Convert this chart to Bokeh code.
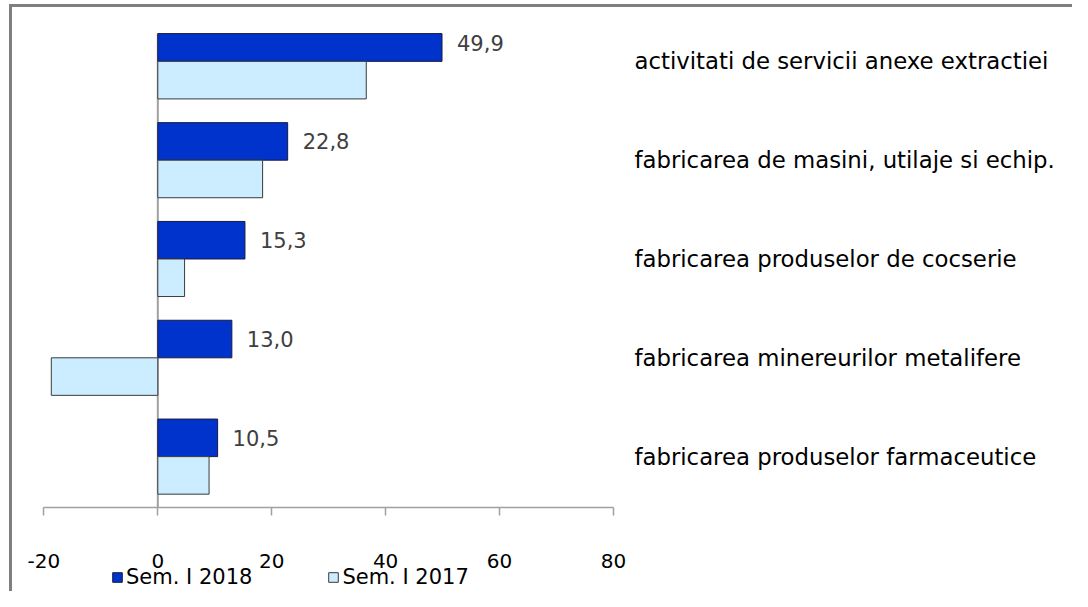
from bokeh.plotting import figure
from bokeh.models import (ColumnDataSource, FixedTicker, Legend, LegendItem)
from bokeh.core.properties import value
from bokeh.embed import file_html
from bokeh.resources import INLINE

categories = [
    "activitati de servicii anexe extractiei",
    "fabricarea de masini, utilaje si echip.",
    "fabricarea produselor de cocserie",
    "fabricarea minereurilor metalifere",
    "fabricarea produselor farmaceutice",
]
sem1_2018 = [49.9, 22.8, 15.3, 13.0, 10.5]
sem1_2017 = [36.6, 18.4, 4.7, -18.7, 9.0]
series_names = ["Sem. I 2018", "Sem. I 2017"]
x_ticks = [-20, 0, 20, 40, 60, 80]

FONT = "DejaVu Sans"
DARK = "#0033CC"
LIGHT = "#CCECFF"
BAR_H = 0.38

# plot-area limits (value axis and category axis) inside the wider canvas
X_MIN, X_MAX = -20, 80
Y_BOT, Y_TOP = -0.51, 4.281

n = len(categories)
ypos = [n - 1 - i for i in range(n)]

src = ColumnDataSource(dict(
    y=ypos,
    d_bot=[y for y in ypos],
    d_top=[min(y + BAR_H, Y_TOP) for y in ypos],
    l_bot=[y - BAR_H for y in ypos],
    l_top=[y for y in ypos],
    y_lab=[y + BAR_H / 2 for y in ypos],
    v18=sem1_2018,
    v17=sem1_2017,
    lab=[f"{v:.1f}".replace(".", ",") for v in sem1_2018],
))

p = figure(width=1072, height=591, output_backend="svg", toolbar_location=None,
           x_range=(-27.62, 160.6), y_range=(-1.365, 4.616),
           y_axis_location="right",
           min_border_left=0, min_border_right=0, min_border_top=0,
           min_border_bottom=0)
p.outline_line_color = None
p.grid.visible = False
p.background_fill_color = "white"
p.border_fill_color = "white"

p.segment(x0=[0], y0=[Y_BOT], x1=[0], y1=[Y_TOP], line_color="#A0A0A0",
          line_width=2)

r18 = p.quad(left=0, right="v18", bottom="d_bot", top="d_top", source=src,
             fill_color=DARK, line_color="#1a1a40", line_width=1)
r17 = p.quad(left=0, right="v17", bottom="l_bot", top="l_top", source=src,
             fill_color=LIGHT, line_color="#3a3a3a", line_width=1)

p.text(x="v18", y="y_lab", text="lab", source=src, x_offset=15,
       text_baseline="middle", text_align="left",
       text_font=value(FONT), text_font_size="21px", text_color="#404040")

xa = p.xaxis[0]
xa.fixed_location = Y_BOT
xa.bounds = (X_MIN, X_MAX)
xa.ticker = FixedTicker(ticks=x_ticks)
xa.major_label_overrides = {t: str(t) for t in x_ticks}
xa.axis_line_color = "#A0A0A0"
xa.axis_line_width = 1.5
xa.major_tick_line_color = "#A0A0A0"
xa.major_tick_line_width = 1.5
xa.major_tick_out = 8
xa.major_tick_in = 0
xa.minor_tick_out = 0
xa.minor_tick_in = 0
xa.major_label_standoff = 39
xa.major_label_text_font = FONT
xa.major_label_text_font_size = "20px"
xa.major_label_text_color = "black"

ya = p.yaxis[0]
ya.fixed_location = X_MAX
ya.ticker = FixedTicker(ticks=ypos)
ya.major_label_overrides = {y: c for y, c in zip(ypos, categories)}
ya.axis_line_color = None
ya.major_tick_line_color = None
ya.minor_tick_line_color = None
ya.major_tick_out = 0
ya.major_tick_in = 0
ya.major_label_standoff = 21
ya.major_label_text_font = FONT
ya.major_label_text_font_size = "22.8px"
ya.major_label_text_color = "black"

legend = Legend(items=[LegendItem(label=series_names[0], renderers=[r18]),
                       LegendItem(label=series_names[1], renderers=[r17])],
                orientation="horizontal", location=(111, 2), spacing=75,
                label_standoff=3, glyph_width=12, glyph_height=12,
                padding=0, margin=0, border_line_color=None,
                background_fill_alpha=0, label_text_font=FONT,
                label_text_font_size="21px", label_text_color="black")
p.add_layout(legend, "center")

# outer chart frame: only its left and top edges fall inside the picture
dummy = p.scatter(x=[], y=[], fill_alpha=0, line_alpha=0)
frame_box = Legend(items=[LegendItem(label=" ", renderers=[dummy])],
                   location=(9.4, -418.5), label_width=2000, label_height=1000,
                   glyph_width=1, glyph_height=1, label_standoff=0,
                   padding=0, margin=0, spacing=0,
                   border_line_color="black", border_line_width=3,
                   background_fill_alpha=0, label_text_font_size="1px")
p.add_layout(frame_box, "center")

open("out.html", "w").write(file_html(p, INLINE))
